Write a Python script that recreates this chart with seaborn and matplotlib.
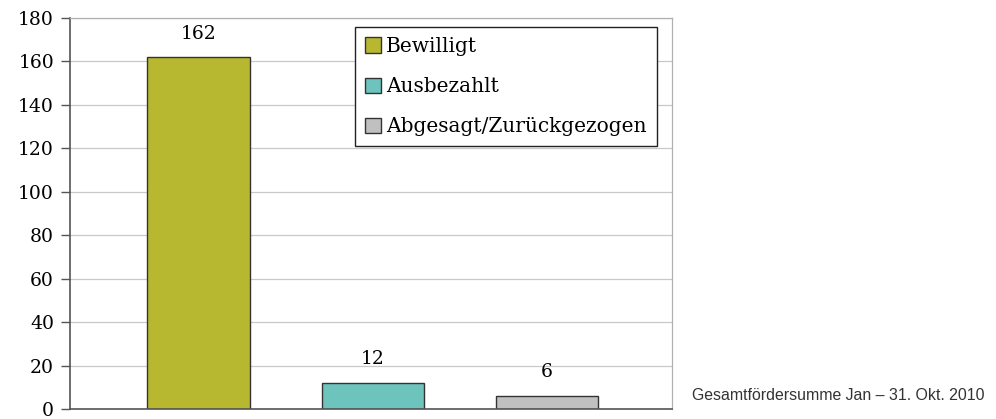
import seaborn as sns
import matplotlib.pyplot as plt
import pandas as pd

categories = ["Bewilligt", "Ausbezahlt", "Abgesagt/Zurückgezogen"]
values = [162, 12, 6]
colors = ["#b8b830", "#6cc4bd", "#c0c0c0"]
yticks = [0, 20, 40, 60, 80, 100, 120, 140, 160, 180]
note = "Gesamtfördersumme Jan – 31. Okt. 2010"

sns.set_style("white")
plt.rcParams["font.family"] = ["DejaVu Serif"]

df = pd.DataFrame({"status": categories, "count": values})

fig = plt.figure(figsize=(9.96, 4.19), dpi=100)
ax = fig.add_axes([0.0703, 0.0239, 0.6047, 0.933])

sns.barplot(data=df, x="status", y="count", hue="status", palette=colors,
            saturation=1, dodge=False, width=0.59, edgecolor="#333333",
            linewidth=1.0, legend=False, ax=ax)

for i, v in enumerate(values):
    ax.annotate(str(v), (i, v), xytext=(0, 17), textcoords="offset points",
                ha="center", va="center", fontsize=13.5, color="black")

ax.set_ylim(0, 180)
ax.set_xlim(-0.74, 2.72)
ax.set_yticks(yticks)
ax.set_xticks([])
ax.set_xlabel("")
ax.set_ylabel("")
ax.yaxis.grid(True, color="#c8c8c8", linewidth=0.9)
ax.set_axisbelow(True)
ax.tick_params(axis="y", left=True, length=6.5, width=1, color="#555555",
               labelsize=13.5, labelcolor="black", pad=5)
for s in ["left", "bottom"]:
    ax.spines[s].set_color("#555555")
    ax.spines[s].set_linewidth(1.2)
for s in ["top", "right"]:
    ax.spines[s].set_color("#b0b0b0")
    ax.spines[s].set_linewidth(0.9)

handles = [plt.Rectangle((0, 0), 1, 1, facecolor=c, edgecolor="#333333", linewidth=1)
           for c in colors]
leg = ax.legend(handles, categories, loc="upper left", bbox_to_anchor=(0.473, 0.977),
                fontsize=14.5, frameon=True, fancybox=False, framealpha=1,
                edgecolor="#222222", handlelength=0.8, handleheight=0.8,
                handletextpad=0.25, labelspacing=1.05, borderpad=0.5,
                borderaxespad=0)
leg.get_frame().set_linewidth(1.0)
for t in leg.get_texts():
    t.set_color("black")

fig.text(0.6945, 0.057, note, fontsize=11.4, family="Liberation Sans",
         color="#333333", ha="left", va="center")

fig.savefig("out.png", dpi=100)
